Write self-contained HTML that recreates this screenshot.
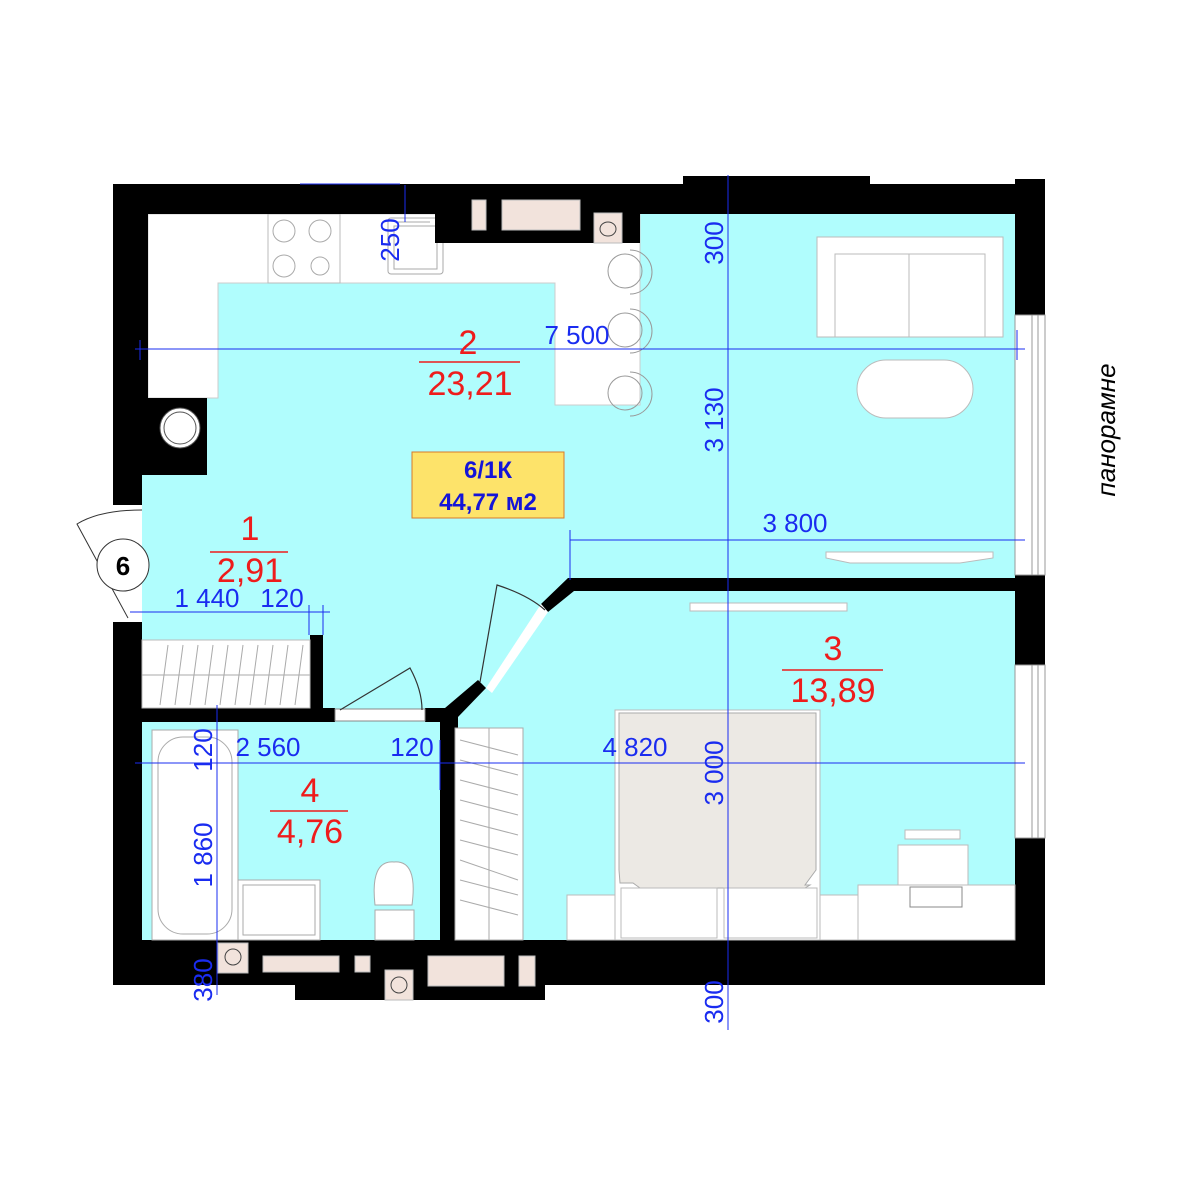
<!DOCTYPE html>
<html><head><meta charset="utf-8"><style>html,body{margin:0;padding:0;background:#fff}svg{display:block}</style></head><body>
<svg width="1200" height="1200" viewBox="0 0 1200 1200" xmlns="http://www.w3.org/2000/svg" font-family="Liberation Sans, Arial, sans-serif">
<rect x="142" y="214" width="873" height="726" fill="#b0fdfd"/>
<path d="M148 214 H640 V405 H555 V283 H218 V398 H148 Z" fill="#fff" stroke="#ccc" stroke-width="1"/>
<rect x="268" y="214" width="72" height="69" fill="#fff" stroke="#bbb"/>
<g fill="none" stroke="#aaa"><circle cx="284" cy="231" r="11"/><circle cx="320" cy="231" r="11"/><circle cx="284" cy="266" r="11"/><circle cx="320" cy="266" r="9"/>
<rect x="388" y="218" width="55" height="56" rx="3"/><rect x="394" y="226" width="43" height="43"/><line x1="397" y1="222" x2="430" y2="222"/>
<g stroke="#999"><circle cx="625" cy="271" r="17"/><circle cx="625" cy="330" r="17"/><circle cx="625" cy="393" r="17"/>
<path d="M630 250 a22 22 0 0 1 0 44"/><path d="M630 309 a22 22 0 0 1 0 44"/><path d="M630 372 a22 22 0 0 1 0 44"/></g></g>
<g fill="#000">
<rect x="113" y="184" width="345" height="30"/>
<rect x="113" y="184" width="35" height="214"/>
<rect x="113" y="398" width="94" height="77"/>
<rect x="113" y="475" width="29" height="30"/>
<rect x="113" y="622" width="29" height="363"/>
<rect x="435" y="184" width="205" height="59"/>
<rect x="600" y="184" width="40" height="59"/>
<rect x="640" y="184" width="405" height="30"/>
<rect x="683" y="176" width="187" height="38"/>
<rect x="1015" y="179" width="30" height="136"/>
<rect x="1015" y="575" width="30" height="90"/>
<rect x="1015" y="838" width="30" height="147"/>
<rect x="113" y="940" width="932" height="45"/>
<rect x="683" y="940" width="187" height="38"/>
<rect x="295" y="975" width="250" height="25"/>
<rect x="575" y="578" width="440" height="13"/>
<polygon points="568,578 580,578 580,591 574,591 548,612 541,604"/>
<polygon points="478,680 486,688 458,717 458,940 440,940 440,708 445,708"/>
<rect x="310" y="635" width="13" height="85"/>
<rect x="142" y="708" width="193" height="14"/>
<rect x="425" y="708" width="30" height="14"/>
</g>
<circle cx="180" cy="428" r="20" fill="#fff" stroke="#555"/><circle cx="180" cy="428" r="16" fill="none" stroke="#555"/>
<g fill="#f2e3dc" stroke="#bbb">
<rect x="472" y="200" width="14" height="30"/><rect x="502" y="200" width="78" height="30"/><rect x="594" y="213" width="28" height="30"/>
<rect x="218" y="943" width="30" height="30"/><rect x="263" y="956" width="76" height="16"/><rect x="355" y="956" width="15" height="16"/>
<rect x="385" y="970" width="28" height="30"/><rect x="428" y="956" width="76" height="30"/><rect x="519" y="956" width="16" height="30"/>
</g>
<g fill="none" stroke="#444"><ellipse cx="608" cy="229" rx="8" ry="7"/><circle cx="233" cy="957" r="8"/><circle cx="399" cy="985" r="8"/></g>
<g fill="#fff" stroke="#999"><rect x="1015" y="315" width="30" height="260"/><rect x="1015" y="665" width="30" height="173"/></g>
<g stroke="#999"><line x1="1032" y1="315" x2="1032" y2="575"/><line x1="1038" y1="315" x2="1038" y2="575"/><line x1="1032" y1="665" x2="1032" y2="838"/><line x1="1038" y1="665" x2="1038" y2="838"/></g>
<rect x="335" y="709" width="90" height="12" fill="#fff" stroke="#888"/>
<polygon points="486,688 541,604 548,612 492,693" fill="#fff"/>
<g fill="none" stroke="#333" stroke-width="1.2">
<path d="M340 710 L410 668 Q422 690 422 710"/>
<path d="M480 682 L497 585 Q528 595 545 610"/>
</g>
<rect x="113" y="505" width="29" height="117" fill="#fff"/>
<path d="M142 510 Q100 510 77 524 L128 618" fill="none" stroke="#333"/>
<circle cx="123" cy="565" r="26" fill="#fff" stroke="#333"/>
<text x="123" y="575" font-size="26" font-weight="bold" text-anchor="middle">6</text>
<rect x="142" y="640" width="168" height="68" fill="#fff" stroke="#bbb"/>
<g stroke="#aaa"><line x1="142" y1="675" x2="310" y2="675"/>
<line x1="160" y1="705" x2="168" y2="645"/><line x1="175" y1="705" x2="183" y2="645"/><line x1="190" y1="705" x2="198" y2="645"/><line x1="205" y1="705" x2="213" y2="645"/><line x1="220" y1="705" x2="228" y2="645"/><line x1="235" y1="705" x2="243" y2="645"/><line x1="250" y1="705" x2="258" y2="645"/><line x1="265" y1="705" x2="273" y2="645"/><line x1="280" y1="705" x2="288" y2="645"/><line x1="295" y1="705" x2="303" y2="645"/></g>
<g fill="#fff" stroke="#aaa">
<rect x="152" y="730" width="86" height="210"/><rect x="158" y="737" width="74" height="197" rx="25"/>
<rect x="238" y="880" width="82" height="60"/><rect x="243" y="885" width="72" height="50"/>
<path d="M375 940 V910 H414 V940 Z"/><path d="M375 905 Q370 860 394 862 Q418 860 412 905 Z"/>
<rect x="455" y="728" width="68" height="212"/>
</g>
<g stroke="#aaa"><line x1="489" y1="728" x2="489" y2="940"/>
<line x1="460" y1="740" x2="518" y2="755"/><line x1="460" y1="760" x2="518" y2="775"/><line x1="460" y1="780" x2="518" y2="795"/><line x1="460" y1="800" x2="518" y2="815"/><line x1="460" y1="820" x2="518" y2="835"/><line x1="460" y1="840" x2="518" y2="855"/><line x1="460" y1="860" x2="518" y2="880"/><line x1="460" y1="880" x2="518" y2="895"/><line x1="460" y1="900" x2="518" y2="915"/></g>
<g fill="#fff" stroke="#bbb">
<rect x="567" y="895" width="48" height="45"/><rect x="615" y="710" width="205" height="230"/><rect x="820" y="895" width="38" height="45"/>
<rect x="858" y="885" width="157" height="55"/><rect x="898" y="845" width="70" height="40"/><rect x="905" y="830" width="55" height="9"/>
<rect x="817" y="237" width="186" height="100"/><rect x="835" y="254" width="150" height="83"/><line x1="909" y1="254" x2="909" y2="337"/>
<rect x="857" y="360" width="116" height="58" rx="29"/>
<path d="M826 552 H993 V558 L960 563 H850 L826 558 Z"/><path d="M690 603 H847 V611 H690 Z"/>
</g>
<path d="M619 713 H816 V870 L805 885 H810 L805 888 H640 L633 883 H620 L619 870 Z" fill="#ece9e4" stroke="#aaa"/>
<g fill="#fff" stroke="#bbb"><rect x="621" y="888" width="96" height="50"/><rect x="724" y="888" width="93" height="50"/></g>
<rect x="910" y="887" width="52" height="20" fill="none" stroke="#888"/>
<g stroke="#1a2cf0" stroke-width="1">
<line x1="135" y1="349" x2="1025" y2="349"/><line x1="728" y1="175" x2="728" y2="1030"/>
<line x1="570" y1="540" x2="1025" y2="540"/><line x1="570" y1="530" x2="570" y2="580"/>
<line x1="135" y1="763" x2="1025" y2="763"/>
<line x1="130" y1="612" x2="330" y2="612"/><line x1="309" y1="605" x2="309" y2="635"/><line x1="323" y1="605" x2="323" y2="635"/>
<line x1="217" y1="705" x2="217" y2="995"/>
<line x1="405" y1="185" x2="405" y2="222"/><line x1="300" y1="184" x2="400" y2="184"/>
<line x1="140" y1="340" x2="140" y2="360"/><line x1="1017" y1="330" x2="1017" y2="360"/>
<line x1="440" y1="740" x2="440" y2="790"/>
</g>
<g fill="#1a2cf0" font-size="26">
<text x="577" y="344" text-anchor="middle">7 500</text>
<text x="795" y="532" text-anchor="middle">3 800</text>
<text x="635" y="756" text-anchor="middle">4 820</text>
<text x="268" y="756" text-anchor="middle">2 560</text>
<text x="412" y="756" text-anchor="middle">120</text>
<text x="207" y="607" text-anchor="middle">1 440</text>
<text x="282" y="607" text-anchor="middle">120</text>
<text transform="translate(723,243) rotate(-90)" text-anchor="middle">300</text>
<text transform="translate(723,420) rotate(-90)" text-anchor="middle">3 130</text>
<text transform="translate(723,773) rotate(-90)" text-anchor="middle">3 000</text>
<text transform="translate(723,1002) rotate(-90)" text-anchor="middle">300</text>
<text transform="translate(399,240) rotate(-90)" text-anchor="middle">250</text>
<text transform="translate(212,750) rotate(-90)" text-anchor="middle">120</text>
<text transform="translate(212,855) rotate(-90)" text-anchor="middle">1 860</text>
<text transform="translate(212,980) rotate(-90)" text-anchor="middle">380</text>
</g>
<g fill="#ee1c1c" font-size="34" text-anchor="middle">
<text x="468" y="354">2</text><text x="470" y="395">23,21</text>
<text x="250" y="540">1</text><text x="250" y="582">2,91</text>
<text x="310" y="802">4</text><text x="310" y="843">4,76</text>
<text x="833" y="660">3</text><text x="833" y="702">13,89</text>
</g>
<g stroke="#ee1c1c" stroke-width="1.5">
<line x1="419" y1="362" x2="520" y2="362"/><line x1="210" y1="552" x2="288" y2="552"/><line x1="270" y1="811" x2="348" y2="811"/><line x1="782" y1="670" x2="883" y2="670"/>
</g>
<rect x="412" y="452" width="152" height="66" fill="#fde36a" stroke="#d97a2a"/>
<g fill="#1414d8" font-size="24" font-weight="bold" text-anchor="middle">
<text x="488" y="478">6/1К</text><text x="488" y="510">44,77 м2</text></g>
<text transform="translate(1115,430) rotate(-90)" font-size="26" font-style="italic" text-anchor="middle" fill="#000">панорамне</text>
</svg>
</body></html>
